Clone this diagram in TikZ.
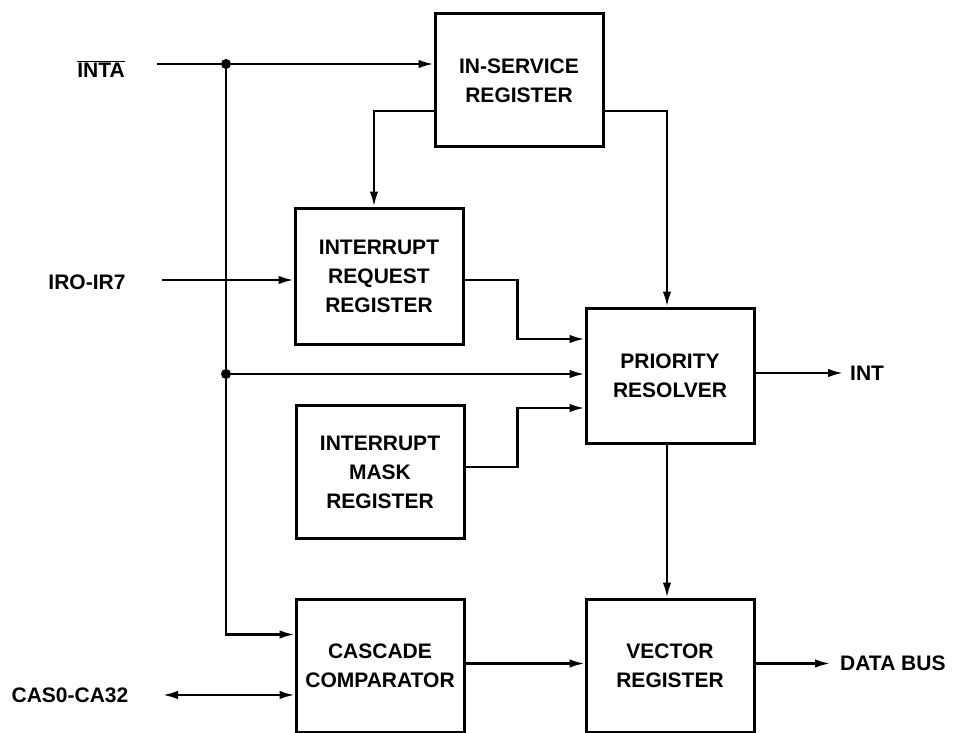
\documentclass[tikz,border=0pt]{standalone}
\usepackage{fontspec}
\setmainfont{Liberation Sans}
\usetikzlibrary{arrows.meta,calc}
\begin{document}
\begin{tikzpicture}[x=1pt,y=-1pt,
  blk/.style={draw,line width=3pt,minimum width=168pt,minimum height=133pt,
    align=center,inner sep=0pt,font=\fontsize{21}{29}\selectfont\bfseries},
  lbl/.style={inner sep=0pt,font=\fontsize{21}{29}\selectfont\bfseries},
  wire/.style={line width=2.3pt},
  arr/.style={wire,-{Latex[length=15pt,width=8.5pt]}},
  darr/.style={wire,{Latex[length=15pt,width=8.5pt]}-{Latex[length=15pt,width=8.5pt]}},
  dot/.style={circle,fill,inner sep=0pt,minimum size=10pt}]
\useasboundingbox (0,0) rectangle (961,733);
% blocks
\node[blk] (isr) at (519,80.5) {IN-SERVICE\\REGISTER};
\node[blk,minimum height=136pt] (irr) at (379,276) {INTERRUPT\\REQUEST\\REGISTER};
\node[blk] (imr) at (380,472) {INTERRUPT\\MASK\\REGISTER};
\node[blk,minimum height=135pt] (pr) at (670,375.5) {PRIORITY\\RESOLVER};
\node[blk] (cc) at (380,665.5) {CASCADE\\COMPARATOR};
\node[blk] (vr) at (670,665.5) {VECTOR\\REGISTER};
% labels
\node[lbl] (inta) at (101,69) {$\overline{\hbox{INTA}}$};
\node[lbl] (ir) at (87,282) {IRO-IR7};
\node[lbl] (cas) at (70,695) {CAS0-CA32};
\node[lbl,anchor=west] (int) at (850,373) {INT};
\node[lbl,anchor=west] (db) at (840,663.5) {DATA BUS};
% junctions and wire ends
\coordinate (intaend) at (157,64);
\coordinate (irend) at (162,280);
\coordinate (casend) at (163,695);
\node[dot] (j1) at (226,64) {};
\node[dot] (j2) at (226,374) {};
% connectors
\draw[wire] (intaend) -- (j1);
\draw[arr] (j1) -- (isr.west |- j1);
\draw[wire] (j1) -- (j2);
\draw[arr] (j2) -- (pr.west |- j2);
\draw[arr] (j2) |- ([yshift=31pt]cc.west);
\draw[arr] (irend) -- (irr.west |- irend);
\draw[arr] ([yshift=-30.5pt]isr.west) -| ([xshift=-5pt]irr.north);
\draw[arr] ([yshift=-30.5pt]isr.east) -| ([xshift=-3pt]pr.north);
\draw[arr] ([yshift=-4pt]irr.east) -- ++(53,0) |- ([yshift=36.5pt]pr.west);
\draw[arr] ([yshift=5pt]imr.east) -- ++(52,0) |- ([yshift=-32.5pt]pr.west);
\draw[arr] (pr.east |- int) -- ([xshift=-7pt]int.west);
\draw[arr] ([xshift=-3pt]pr.south) -- ([xshift=-3pt]vr.north);
\draw[arr] ([yshift=2pt]cc.east) -- ([yshift=2pt]vr.west);
\draw[arr] (vr.east |- db) -- ([xshift=-10pt]db.west);
\draw[darr] (casend) -- ([yshift=-29.5pt]cc.west);
\end{tikzpicture}
\end{document}
